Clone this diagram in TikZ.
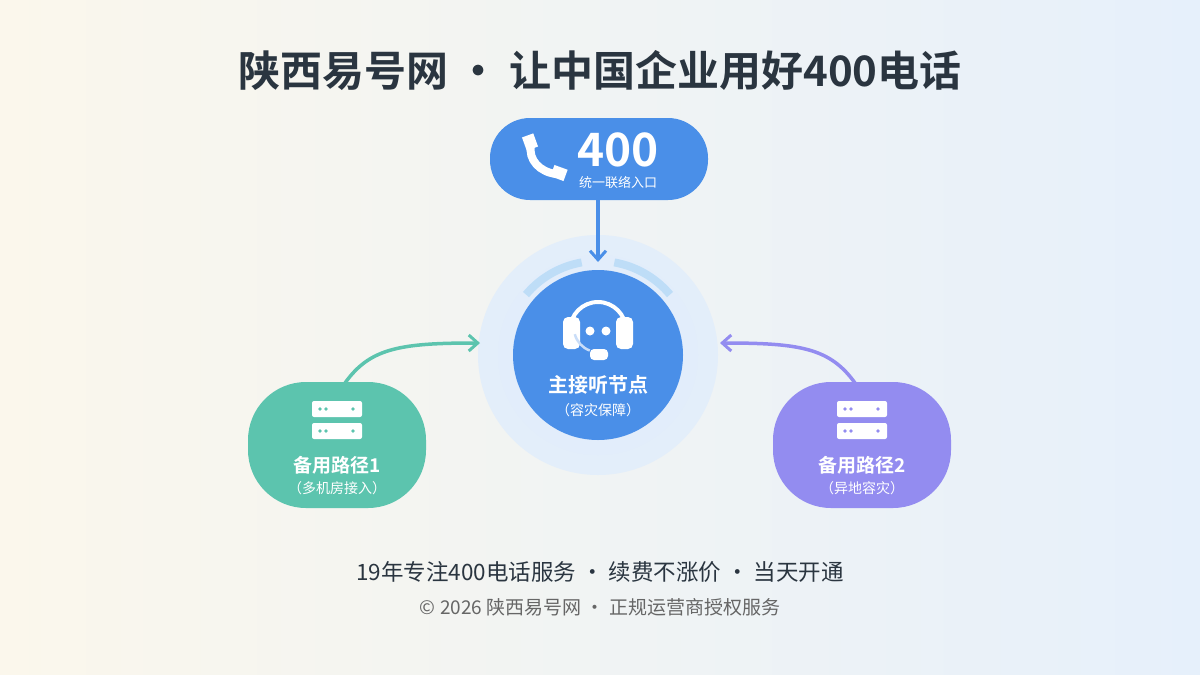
\documentclass[tikz,border=0pt]{standalone}
\usepackage{fontspec}
\setmainfont{Noto Sans CJK SC}
\newfontfamily\cjkb{Noto Sans CJK SC Bold}
\usetikzlibrary{arrows.meta,shapes.geometric}
\definecolor{ink}{HTML}{2A3540}
\definecolor{blu}{HTML}{4A8FE8}
\definecolor{grn}{HTML}{5CC4AE}
\definecolor{pur}{HTML}{938CF0}
\definecolor{bgl}{HTML}{FBF7EC}
\definecolor{bgr}{HTML}{E6F0FB}
\definecolor{halo1}{HTML}{E3EEFA}
\definecolor{halo2}{HTML}{D5E6FA}
\definecolor{arcc}{HTML}{B5DAF6}
\tikzset{
 lbl/.style={text=white,font=\cjkb\fontsize{20}{22}\selectfont},
 sub/.style={text=white,font=\fontsize{14}{16}\selectfont},
 arr/.style={line width=3.5pt,-{Straight Barb[length=9pt,width=16pt,line width=3pt]},line cap=round},
 srv/.style={fill=white,rounded corners=2pt},
 blob/.style={rounded corners=58pt,minimum width=178pt,minimum height=126pt,inner sep=0pt}
}
\begin{document}
\begin{tikzpicture}[x=1pt,y=-1pt]
\useasboundingbox (0,0) rectangle (1200,675);
\shade[left color=bgl,right color=bgr,middle color=bgr!50!bgl] (0,0) rectangle (1200,675);
\node[text=ink,font=\cjkb\fontsize{42}{44}\selectfont] (title) at (600,70) {陕西易号网 · 让中国企业用好400电话};
% center
\fill[halo1] (598,355) circle (120);
\fill[halo2!70!white] (598,355) circle (100);
\draw[arcc,line width=8pt,opacity=.8] (598,355) ++(-140:94) arc (-140:-100:94);
\draw[arcc,line width=8pt,opacity=.8] (598,355) ++(-40:94) arc (-40:-80:94);
\node[circle,fill=blu,minimum size=170pt,inner sep=0pt] (c) at (598,355) {};
\draw[white,line width=4pt] (570,330) arc (180:360:28);
\fill[white,rounded corners=5pt] (563,317) rectangle (580,349);
\fill[white,rounded corners=5pt] (616,317) rectangle (633,349);
\fill[white] (590,331) circle (4.5) (606,331) circle (4.5);
\draw[white!70!blu,line width=2.5pt] (598,328) ++(165:24) arc (165:110:24);
\fill[white,rounded corners=4pt] (590,349) rectangle (608,360);
\node[lbl] (cl) at (598,385) {主接听节点};
\node[sub] (cs) at (598,410) {（容灾保障）};
% top
\node[fill=blu,rounded corners=40pt,minimum width=218pt,minimum height=82pt] (top) at (599,159) {};
\draw[white,line width=8pt,line cap=round] (531,145) .. controls (528,160) and (540,172) .. (556,174);
\fill[white,rotate around={20:(530,142)}] (524,135) rectangle (536,149);
\fill[white,rotate around={70:(559,173)}] (553,166) rectangle (565,180);
\node[text=white,font=\cjkb\fontsize{46}{46}\selectfont] (n4) at (618,150) {400};
\node[sub,font=\fontsize{13}{15}\selectfont] (ts) at (618,183) {统一联络入口};
\coordinate (tb) at (598,200);
\coordinate (ct) at (598,262);
\draw[arr,blu] (tb) -- (ct);
% left
\node[blob,fill=grn] (L) at (337,445) {};
\fill[srv] (312,401) rectangle (362,417); \fill[srv] (312,423) rectangle (362,439);
\fill[grn] (320,409) circle (1.8) (326,409) circle (1.8) (353,409) circle (1.8) (320,431) circle (1.8) (326,431) circle (1.8) (353,431) circle (1.8);
\node[lbl,font=\cjkb\fontsize{19}{21}\selectfont] (Ll) at (337,465) {备用路径1};
\node[sub] (Ls) at (337,488) {（多机房接入）};
\coordinate (la) at (345,383);
\coordinate (lb) at (480,343);
\draw[arr,grn] (la) .. controls (370,348) and (400,343) .. (lb);
% right
\node[blob,fill=pur] (R) at (862,445) {};
\fill[srv] (837,401) rectangle (887,417); \fill[srv] (837,423) rectangle (887,439);
\fill[pur] (845,409) circle (1.8) (851,409) circle (1.8) (878,409) circle (1.8) (845,431) circle (1.8) (851,431) circle (1.8) (878,431) circle (1.8);
\node[lbl,font=\cjkb\fontsize{19}{21}\selectfont] (Rl) at (862,465) {备用路径2};
\node[sub] (Rs) at (862,488) {（异地容灾）};
\coordinate (ra) at (855,383);
\coordinate (rb) at (720,343);
\draw[arr,pur] (ra) .. controls (830,348) and (800,343) .. (rb);
% footer
\node[text=ink,font=\fontsize{22.5}{24}\selectfont] (f1) at (600,572) {19年专注400电话服务 · 续费不涨价 · 当天开通};
\node[text=black!60,font=\fontsize{19}{21}\selectfont] (f2) at (600,607) {© 2026 陕西易号网 · 正规运营商授权服务};
\end{tikzpicture}
\end{document}
